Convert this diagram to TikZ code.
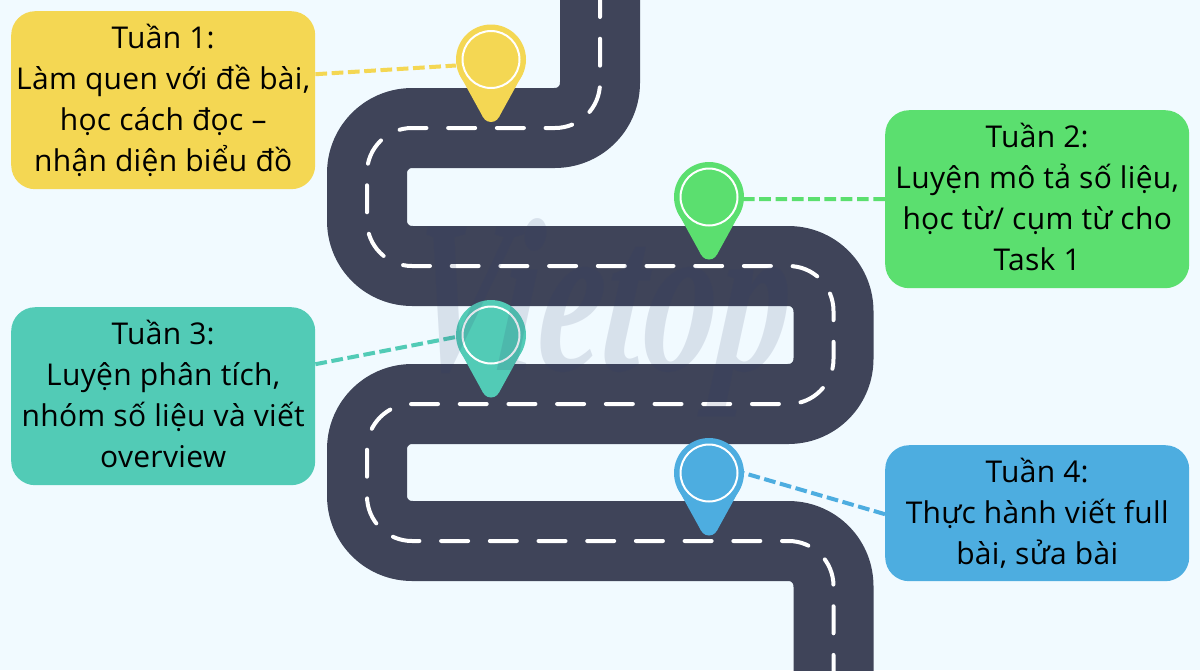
\documentclass[tikz,border=0pt]{standalone}
\usepackage{fontspec}
\setmainfont[LetterSpace=1]{Open Sans}
\usetikzlibrary{calc}
\definecolor{bgc}{HTML}{F1FAFF}
\definecolor{roadc}{HTML}{3F4459}
\definecolor{yel}{HTML}{F4D753}
\definecolor{gre}{HTML}{5BDF6F}
\definecolor{tea}{HTML}{52CBB6}
\definecolor{blu}{HTML}{4DADE0}
\definecolor{wmc}{HTML}{2E3A6A}
\newcommand{\lift}[1]{\rule[-#1pt]{0pt}{0pt}}
\tikzset{
  x=1pt,y=-1pt,
  card/.style={rounded corners=24pt,minimum width=304pt,align=center,font=\fontsize{30}{41}\selectfont,text=black,inner sep=0pt,anchor=north west},
  pinhead/.style={circle,minimum size=70pt,inner sep=0pt},
  link/.style={line width=4pt,dash pattern=on 11.7pt off 4.6pt},
}
\newcommand{\pin}[4]{% name, x, y, colour
  \node[pinhead] (#1) at (#2,#3) {};
  \fill[#4] (#1) circle[radius=35pt];
  \fill[#4] ($(#1)+(-32,14)$) -- ($(#1)+(-7.8,57.9)$) -- ($(#1)+(7.8,57.9)$) -- ($(#1)+(32,14)$) -- cycle;
  \fill[#4] ($(#1)+(0,53.6)$) circle[radius=8.9pt];
  \draw[white,line width=2pt] (#1) circle[radius=28.5pt];
}
\begin{document}
\begin{tikzpicture}
\useasboundingbox (0,0) rectangle (1200,670);
\fill[bgc] (0,0) rectangle (1200,670);
% road
\def\roadpath{(600,-2) -- (600,128) -- (367,128) -- (367,266) -- (833.5,266) -- (833.5,404) -- (367,404) -- (367,541) -- (833.5,541) -- (833.5,672)}
\draw[roadc,line width=80pt,rounded corners=45pt,line join=round] \roadpath;
\draw[white,line width=4pt,line cap=round,rounded corners=45pt,dash pattern=on 27pt off 21.7pt,dash phase=8pt] \roadpath;
% cards
\node[card,fill=yel,minimum height=178pt] (c1) at (11,11) {Tuần 1:\\Làm quen với đề bài,\\học cách đọc –\\nhận diện biểu đồ\lift{5}};
\node[card,fill=gre,minimum height=178pt] (c2) at (885,110) {Tuần 2:\\Luyện mô tả số liệu,\\học từ/ cụm từ cho\\Task 1\lift{4}};
\node[card,fill=tea,minimum height=178pt] (c3) at (11,307) {Tuần 3:\\Luyện phân tích,\\nhóm số liệu và viết\\overview\lift{4}};
\node[card,fill=blu,minimum height=136pt] (c4) at (885,445) {Tuần 4:\\Thực hành viết full\\bài, sửa bài};
% pins
\pin{p1}{491}{59.5}{yel}
\pin{p2}{709}{197}{gre}
\pin{p3}{491}{335}{tea}
\pin{p4}{709}{473}{blu}
% links
\draw[link,yel] ($(c1.east)+(0,-26)$) -- ($(p1.west)+(0,6)$);
\draw[link,gre] ($(c2.west)+(0,0)$) -- ($(p2.east)+(0,2)$);
\draw[link,tea] ($(c3.east)+(0,-32)$) -- ($(p3.west)+(0,2)$);
\draw[link,blu] ($(c4.west)+(0,1)$) -- ($(p4.east)+(-4,-1)$);
% watermark
\node[opacity=.13,text=wmc,font=\fontspec{Liberation Serif}\bfseries\itshape\fontsize{146}{146}\selectfont,yscale=1.5,xslant=.15,transform shape] (wm) at (600,318) {Vietop};
\end{tikzpicture}
\end{document}
